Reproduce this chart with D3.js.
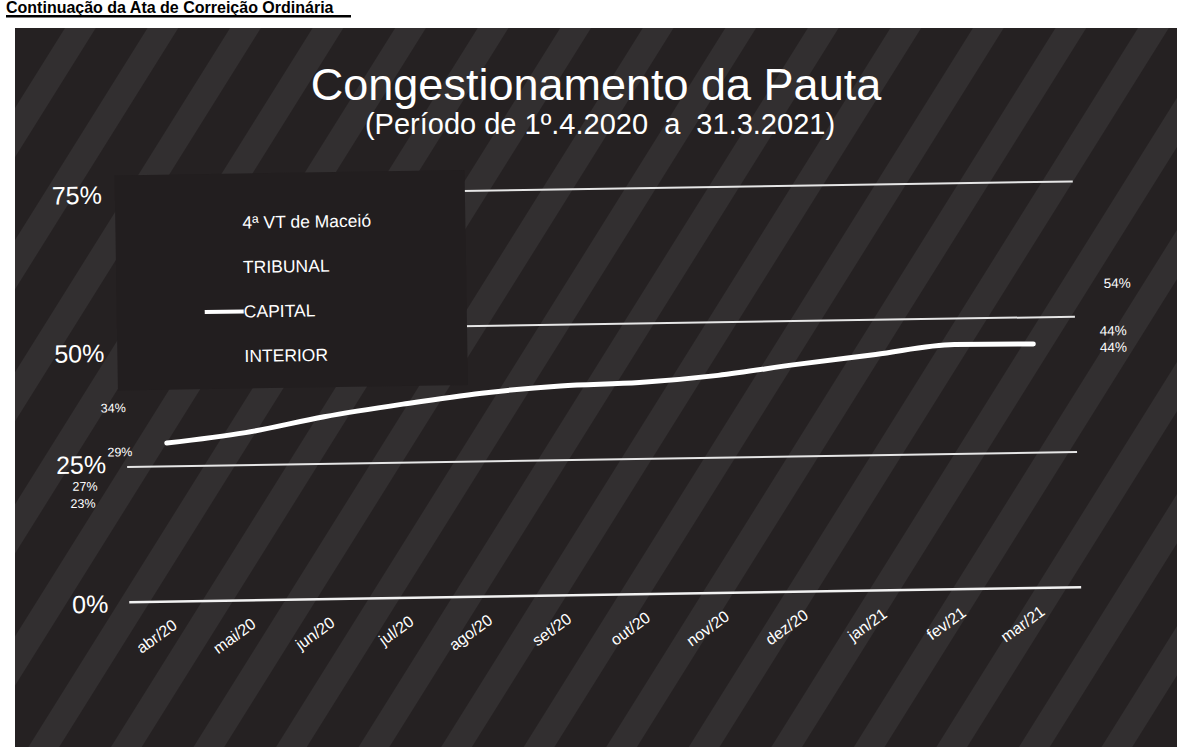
<!DOCTYPE html>
<html>
<head>
<meta charset="utf-8">
<script src="https://cdnjs.cloudflare.com/ajax/libs/d3/7.8.5/d3.min.js"></script>
<style>
  body { margin: 0; background: #fff; }
  svg { display: block; }
  text { font-family: "Liberation Sans", Arial, sans-serif; }
</style>
</head>
<body>
<div class="chart"></div>
<script>
// chart data
var months = ["abr/20", "mai/20", "jun/20", "jul/20", "ago/20", "set/20",
              "out/20", "nov/20", "dez/20", "jan/21", "fev/21", "mar/21"];
var capital = [29.3, 31, 33.7, 35.8, 37.6, 38.7, 39.1, 40.2, 42, 43.6, 45.2, 45.1];
var seriesNames = ["4ª VT de Maceió", "TRIBUNAL", "CAPITAL", "INTERIOR"];
var yTicks = [0, 25, 50, 75];
var firstLabels = [34, 29, 27, 23];
var lastLabels = [54, 44, 44];

// label placement (x in px, vertical nudge in px)
var firstPos = [{x: 113, dy: -10.5}, {x: 119, dy: 6.6}, {x: 83.5, dy: 29.5}, {x: 81.3, dy: 25}];
var lastPos = [{x: 1118.7, dy: -11.4}, {x: 1114, dy: -18}, {x: 1114, dy: -1.5}];
var tickNudge = {0: 1, 25: -3, 50: 21, 75: -2};

var svgWidth = 1177;
var svgHeight = 747;

var svg = d3.select(".chart")
    .append("svg")
    .attr("width", svgWidth)
    .attr("height", svgHeight);

// header of the page above the chart
svg.append("text")
    .attr("x", 6)
    .attr("y", 13)
    .attr("font-size", 16)
    .attr("font-weight", "bold")
    .attr("fill", "#000")
    .text("Continuação da Ata de Correição Ordinária");
svg.append("rect")
    .attr("x", 6).attr("y", 15)
    .attr("width", 345).attr("height", 2.5)
    .attr("fill", "#000");

// faint diagonal halftone bands of the scan
var defs = svg.append("defs");
var pat = defs.append("pattern")
    .attr("id", "bands")
    .attr("patternUnits", "userSpaceOnUse")
    .attr("width", 70).attr("height", 70)
    .attr("patternTransform", "rotate(32)");
pat.append("rect")
    .attr("width", 70).attr("height", 70)
    .attr("fill", "#252122");
pat.append("rect")
    .attr("x", 0).attr("width", 26).attr("height", 70)
    .attr("fill", "#322f30");

// dark panel
svg.append("rect")
    .attr("x", 15).attr("y", 28)
    .attr("width", svgWidth - 15).attr("height", svgHeight - 28)
    .attr("fill", "url(#bands)");

// whole scan is slightly tilted
var page = svg.append("g")
    .attr("transform", "rotate(-0.9, 590, 390)");

var x = d3.scalePoint()
    .domain(months)
    .range([166, 1034]);

var y = d3.scaleLinear()
    .domain([0, 75])
    .range([595, 189]);

// gridlines
page.append("g")
    .selectAll("line")
    .data(yTicks.filter(d => d > 0))
    .enter()
    .append("line")
    .attr("x1", 126)
    .attr("x2", 1076)
    .attr("y1", d => y(d))
    .attr("y2", d => y(d))
    .attr("stroke", "#e6e6e6")
    .attr("stroke-width", 2);

// baseline
page.append("line")
    .attr("x1", 126).attr("x2", 1078)
    .attr("y1", y(0)).attr("y2", y(0))
    .attr("stroke", "#f2f2f2")
    .attr("stroke-width", 2.5);

// y axis labels
var leftAxis = d3.axisLeft(y)
    .tickValues(yTicks)
    .tickFormat(d => d + "%")
    .tickSize(0)
    .tickPadding(21);

var yAxis = page.append("g")
    .attr("transform", "translate(126,0)")
    .call(leftAxis);
yAxis.select(".domain").remove();
yAxis.selectAll("text")
    .attr("font-size", 25)
    .attr("fill", "#fff")
    .attr("font-family", "Liberation Sans, Arial, sans-serif")
    .attr("dy", d => (tickNudge[d] + 8.5) + "px");

// x axis labels
var bottomAxis = d3.axisBottom(x).tickSize(0).tickPadding(0);
var xAxis = page.append("g")
    .attr("transform", "translate(0," + y(0) + ")")
    .call(bottomAxis);
xAxis.select(".domain").remove();
xAxis.selectAll("text")
    .attr("font-size", 16)
    .attr("fill", "#fff")
    .attr("font-family", "Liberation Sans, Arial, sans-serif")
    .attr("text-anchor", "end")
    .attr("dy", 0)
    .attr("y", 0)
    .attr("transform", "translate(8,26) rotate(-35)");

// legend box hides the gridlines on the left
page.append("rect")
    .attr("x", 118).attr("y", 168)
    .attr("width", 350).attr("height", 215)
    .attr("fill", "#221e1f");

var legend = page.append("g");
legend.selectAll("text")
    .data(seriesNames)
    .enter()
    .append("text")
    .attr("x", 245)
    .attr("y", (d, i) => 217 + i * 44.5)
    .attr("dy", "0.35em")
    .attr("font-size", 17.5)
    .attr("fill", "#fff")
    .text(d => d);
legend.append("line")
    .attr("x1", 206).attr("x2", 245)
    .attr("y1", 217 + 2 * 44.5).attr("y2", 217 + 2 * 44.5)
    .attr("stroke", "#fff")
    .attr("stroke-width", 4);

// CAPITAL line
var line = d3.line()
    .x((d, i) => x(months[i]))
    .y(d => y(d))
    .curve(d3.curveMonotoneX);

page.append("path")
    .datum(capital)
    .attr("d", line)
    .attr("fill", "none")
    .attr("stroke", "#fff")
    .attr("stroke-width", 5)
    .attr("stroke-linecap", "round");

// value labels at both ends
page.selectAll(".firstLabel")
    .data(firstLabels)
    .enter()
    .append("text")
    .attr("class", "firstLabel")
    .attr("x", (d, i) => firstPos[i].x)
    .attr("y", (d, i) => y(d) + firstPos[i].dy)
    .attr("dy", "0.35em")
    .attr("text-anchor", "middle")
    .attr("font-size", 12.5)
    .attr("fill", "#fff")
    .text(d => d + "%");

page.selectAll(".lastLabel")
    .data(lastLabels)
    .enter()
    .append("text")
    .attr("class", "lastLabel")
    .attr("x", (d, i) => lastPos[i].x)
    .attr("y", (d, i) => y(d) + lastPos[i].dy)
    .attr("dy", "0.35em")
    .attr("text-anchor", "middle")
    .attr("font-size", 13.5)
    .attr("fill", "#fff")
    .text(d => d + "%");

// title
svg.append("text")
    .attr("x", 596)
    .attr("y", 100)
    .attr("text-anchor", "middle")
    .attr("font-size", 45)
    .attr("fill", "#fff")
    .text("Congestionamento da Pauta");

svg.append("text")
    .attr("x", 600)
    .attr("y", 134)
    .attr("text-anchor", "middle")
    .attr("font-size", 29)
    .attr("fill", "#fff")
    .style("white-space", "pre")
    .text("(Período de 1º.4.2020  a  31.3.2021)");
</script>
</body>
</html>
